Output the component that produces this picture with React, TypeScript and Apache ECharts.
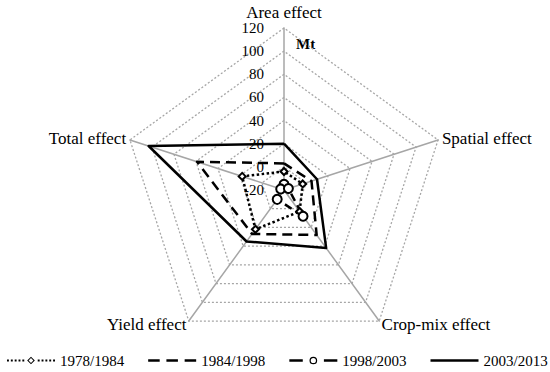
import React, { useEffect, useRef } from "react";
import * as echarts from "echarts";

// Indicators (clockwise from top as in the reference)
const indicatorNames = ["Area effect", "Spatial effect", "Crop-mix effect", "Yield effect", "Total effect"];
const seriesNames = ["1978/1984", "1984/1998", "1998/2003", "2003/2013"];
// Values in Mt, in the order of indicatorNames
const v1978_1984 = [-4, -3, 3, 22, 18];
const v1984_1998 = [3, 5, 28, 27, 59];
const v1998_2003 = [-15, -16, 8, -10, -17];
const v2003_2013 = [20, 10, 42, 35, 103];
const axisMin = -20;
const axisMax = 120;
const unitLabel = "Mt";

const FONT = "Liberation Serif";

// ECharts radar places indicators counter-clockwise; reorder clockwise ones.
const ccwOrder = [0, 4, 3, 2, 1];
const reorder = (arr: any[]) => ccwOrder.map((i) => arr[i]);

const ext = "M0 0 M50 8 ";
const iconDotDiamond =
  "path://" + ext +
  [0, 4, 8, 12, 16, 32, 36, 40, 44, 48].map((x) => `M${x} 3 L${x + 2} 3 L${x + 2} 5 L${x} 5 Z`).join(" ") +
  " M25 0 L29 4 L25 8 L21 4 Z M25 1.5 L22.5 4 L25 6.5 L27.5 4 Z";
const iconDash =
  "path://" + ext + "M0 2.8 L12 2.8 L12 5.2 L0 5.2 Z M19 2.8 L31 2.8 L31 5.2 L19 5.2 Z M38 2.8 L50 2.8 L50 5.2 L38 5.2 Z";
const iconDashCircle =
  "path://" + ext +
  "M0 2.8 L14 2.8 L14 5.2 L0 5.2 Z M36 2.8 L50 2.8 L50 5.2 L36 5.2 Z " +
  "M21 4 A4 4 0 1 0 29 4 A4 4 0 1 0 21 4 Z M22.3 4 A2.7 2.7 0 1 1 27.7 4 A2.7 2.7 0 1 1 22.3 4 Z";
const iconSolid = "path://" + ext + "M0 2.8 L50 2.8 L50 5.2 L0 5.2 Z";

export default function App() {
  const ref = useRef<HTMLDivElement>(null);
  useEffect(() => {
    document.body.style.margin = "0";
    if (!ref.current) return;
    const chart = echarts.init(ref.current, undefined, { renderer: "svg" });
    const indicators = reorder(indicatorNames).map((name: string, i: number) => ({
      name,
      min: axisMin,
      max: axisMax,
      ...(i === 0
        ? { axisLabel: { show: true, color: "#000", fontFamily: FONT, fontSize: 15, margin: 20 } }
        : {}),
    }));
    const icons = [iconDotDiamond, iconDash, iconDashCircle, iconSolid];
    const lineTypes: any[] = [[2.5, 2.5], [10, 6], [8, 5], "solid"];
    const symbols = ["emptyDiamond", "none", "emptyCircle", "none"];
    const values = [v1978_1984, v1984_1998, v1998_2003, v2003_2013];
    chart.setOption({
      animation: false,
      backgroundColor: "#fff",
      textStyle: { fontFamily: FONT },
      legend: {
        left: 2,
        top: 348,
        width: 548,
        itemWidth: 48,
        itemHeight: 8,
        itemGap: 24,
        textStyle: { fontFamily: FONT, fontSize: 15, color: "#000" },
        data: seriesNames.map((n, i) => ({ name: n, icon: icons[i], itemStyle: { color: "#000", borderWidth: 0 } })),
      },
      radar: {
        center: [284, 190],
        radius: 162,
        startAngle: 90,
        splitNumber: 7,
        shape: "polygon",
        indicator: indicators,
        nameGap: 4,
        axisName: { color: "#000", fontFamily: FONT, fontSize: 17 },
        axisLine: { lineStyle: { color: "#a6a6a6", width: 1.5 } },
        splitLine: { lineStyle: { color: "#a6a6a6", width: 1.3, type: [2, 2] } },
        splitArea: { show: false },
        axisTick: { show: false },
        axisLabel: { show: false, color: "#000", fontFamily: FONT, fontSize: 15, margin: 20 },
      },
      graphic: [
        {
          type: "text",
          left: 296,
          top: 36,
          style: { text: unitLabel, font: `bold 15px '${FONT}'`, fill: "#000" },
        },
      ],
      series: values.map((vals, i) => ({
        type: "radar",
        name: seriesNames[i],
        symbol: symbols[i],
        symbolSize: i === 0 ? 7 : 9,
        itemStyle: { color: "#000", borderWidth: 1.2 },
        lineStyle: { color: "#000", width: 2.5, type: lineTypes[i] },
        data: [{ name: seriesNames[i], value: reorder(vals) }],
      })),
    });
    return () => chart.dispose();
  }, []);
  return <div ref={ref} style={{ width: 550, height: 372 }} />;
}
